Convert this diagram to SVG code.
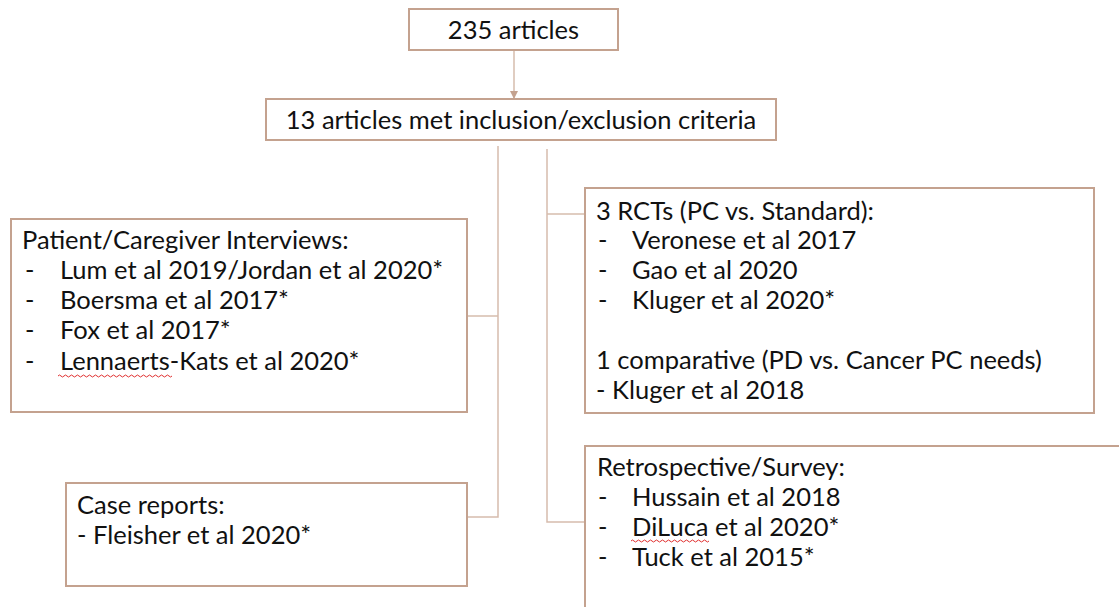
<svg xmlns="http://www.w3.org/2000/svg" width="1119" height="607" viewBox="0 0 1119 607">
<style>
.box{fill:#ffffff;stroke:#c4a28f;stroke-width:2}
.conn{fill:none;stroke:#d6bcad;stroke-width:1.5}
text{font-family:Lato,"Open Sans","Liberation Sans",sans-serif;font-size:25.5px;fill:#111111}
.sq{fill:none;stroke:#e03030;stroke-width:1}
</style>
<defs>
<marker id="arr" markerWidth="8" markerHeight="8" refX="7" refY="4" orient="auto" markerUnits="userSpaceOnUse">
<path d="M0,0 L8,4 L0,8 Z" fill="#c4a28f"/>
</marker>
</defs>
<rect width="1119" height="607" fill="#ffffff"/>
<g id="connectors">
<line class="conn" x1="514" y1="51" x2="514" y2="98" marker-end="url(#arr)"/>
<polyline class="conn" points="498,146 498,517 463,517"/>
<line class="conn" x1="467" y1="316" x2="498" y2="316"/>
<polyline class="conn" points="547,149 547,522 585,522"/>
<line class="conn" x1="547" y1="214" x2="585" y2="214"/>
</g>
<g id="n-total">
<rect class="box" x="409" y="9" width="209" height="41"/>
<text x="513.5" y="39" text-anchor="middle">235 articles</text>
</g>
<g id="n-met">
<rect class="box" x="266" y="99" width="510" height="41"/>
<text x="521" y="129" text-anchor="middle">13 articles met inclusion/exclusion criteria</text>
</g>
<g id="n-interviews">
<rect class="box" x="11" y="219" width="456" height="193"/>
<text x="22" y="249">Patient/Caregiver Interviews:</text>
<text x="25" y="279">-</text><text x="60" y="279">Lum et al 2019/Jordan et al 2020*</text>
<text x="25" y="309">-</text><text x="60" y="309">Boersma et al 2017*</text>
<text x="25" y="339">-</text><text x="60" y="339">Fox et al 2017*</text>
<text x="25" y="370">-</text><text x="60" y="370">Lennaerts-Kats et al 2020*</text>
<path class="sq" d="M58,376 q1.5,-2 3,0 t3,0 t3,0 t3,0 t3,0 t3,0 t3,0 t3,0 t3,0 t3,0 t3,0 t3,0 t3,0 t3,0 t3,0 t3,0 t3,0 t3,0 t3,0 t3,0 t3,0 t3,0 t3,0 t3,0 t3,0 t3,0 t3,0 t3,0 t3,0 t3,0 t3,0 t3,0 t3,0 t3,0 t3,0 t3,0 t3,0 t3,0"/>
</g>
<g id="n-rct">
<rect class="box" x="585" y="188" width="509" height="225"/>
<text x="596" y="220">3 RCTs (PC vs. Standard):</text>
<text x="598" y="249">-</text><text x="632" y="249">Veronese et al 2017</text>
<text x="598" y="279">-</text><text x="632" y="279">Gao et al 2020</text>
<text x="598" y="309">-</text><text x="632" y="309">Kluger et al 2020*</text>
<text x="596" y="369">1 comparative (PD vs. Cancer PC needs)</text>
<text x="596" y="399">- Kluger et al 2018</text>
</g>
<g id="n-case">
<rect class="box" x="66" y="483" width="401" height="103"/>
<text x="77" y="514">Case reports:</text>
<text x="77" y="544">- Fleisher et al 2020*</text>
</g>
<g id="n-retro">
<rect class="box" x="585" y="446" width="560" height="180"/>
<text x="597" y="476">Retrospective/Survey:</text>
<text x="598" y="506">-</text><text x="632" y="506">Hussain et al 2018</text>
<text x="598" y="536">-</text><text x="632" y="536">DiLuca et al 2020*</text>
<text x="598" y="566">-</text><text x="632" y="566">Tuck et al 2015*</text>
<path class="sq" d="M631,541 q1.5,-2 3,0 t3,0 t3,0 t3,0 t3,0 t3,0 t3,0 t3,0 t3,0 t3,0 t3,0 t3,0 t3,0 t3,0 t3,0 t3,0 t3,0 t3,0 t3,0 t3,0 t3,0 t3,0 t3,0 t3,0 t3,0 t3,0"/>
</g>
</svg>
